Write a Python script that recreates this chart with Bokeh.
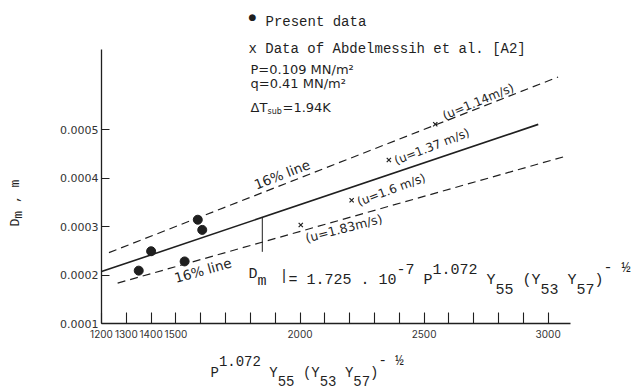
import math

from bokeh.plotting import figure
from bokeh.models import Label, FixedTicker, NumeralTickFormatter, Range1d
from bokeh.embed import file_html
from bokeh.resources import INLINE

# ---------------------------------------------------------------- data
# Present data: abscissa P^1.072 Y55 (Y53 Y57)^-1/2 and mean diameter D_m [m]
present_x = [1350, 1400, 1535, 1588, 1606]
present_d = [0.000209, 0.000249, 0.000228, 0.000314, 0.000293]

# Data of Abdelmessih et al. [A2], with the liquid velocity of each run
abdel_x = [2545, 2358, 2208, 2003]
abdel_d = [0.000511, 0.000437, 0.000354, 0.000303]
abdel_u = ["1.14", "1.37", "1.6", "1.83"]

# Correlation D_m = 1.725e-7 * X with a +/-16 % band
coef = 1.725e-7
band = 0.16
fit_span = [1200, 2960]
upper_span = [1230, 3040]
lower_span = [1265, 3060]

# Axis ticks
x_ticks = [1200, 1300, 1400, 1500, 1600, 1700, 1800, 1900, 2000, 2100,
           2200, 2300, 2400, 2500, 2600, 2700, 2800, 2900, 3000]
x_labelled = [1200, 1300, 1400, 1500, 2000, 2500, 3000]
y_ticks = [0.0001, 0.0002, 0.0003, 0.0004, 0.0005]

# ---------------------------------------------------------------- style
INK = "#1f1f1f"
SANS = "DejaVu Sans"
MONO = "Liberation Mono"
W, H = 635, 391

# axis box: data limits and where they sit on the page (pixels)
AX_X0, AX_X1 = 1200, 3090
AX_Y0, AX_Y1 = 0.0001, 0.000665
PX_L, PX_R, PX_T, PX_B = 101, 570, 49, 323

sx = (PX_R - PX_L) / (AX_X1 - AX_X0)
sy = (PX_B - PX_T) / (AX_Y1 - AX_Y0)

# the plotting area is the whole page; the axes are pinned inside it
x_range = Range1d(AX_X0 - PX_L / sx, AX_X0 + (W - PX_L) / sx)
y_range = Range1d(AX_Y0 - (H - PX_B) / sy, AX_Y0 + PX_B / sy)

p = figure(width=W, height=H, x_range=x_range, y_range=y_range,
           output_backend="svg", toolbar_location=None, min_border=0)
p.xgrid.visible = False
p.ygrid.visible = False
p.outline_line_color = None
p.background_fill_color = "white"
p.border_fill_color = "white"

xa = p.xaxis[0]
xa.fixed_location = AX_Y0
xa.bounds = (AX_X0, AX_X1)
xa.ticker = FixedTicker(ticks=x_ticks, minor_ticks=[])
xa.major_label_overrides = {t: (str(t) if t in x_labelled else "") for t in x_ticks}
xa.major_tick_in = 11
xa.major_tick_out = 0
xa.major_label_standoff = 6
xa.major_label_text_font = "Inter"
xa.major_label_text_font_size = "10px"

ya = p.yaxis[0]
ya.fixed_location = AX_X0
ya.bounds = (AX_Y0, AX_Y1)
ya.ticker = FixedTicker(ticks=y_ticks, minor_ticks=[])
ya.formatter = NumeralTickFormatter(format="0.0000")
ya.major_tick_in = 8
ya.major_tick_out = 0
ya.major_label_standoff = 3
ya.major_label_text_font = SANS
ya.major_label_text_font_size = "11px"

for ax in (xa, ya):
    ax.axis_line_color = INK
    ax.axis_line_width = 1.3
    ax.major_tick_line_color = INK
    ax.major_tick_line_width = 1.1
    ax.major_label_text_color = "#333333"

# ---------------------------------------------------------------- lines
p.line(fit_span, [coef * x for x in fit_span], line_color=INK, line_width=1.6)
p.line(upper_span, [(1 + band) * coef * x for x in upper_span],
       line_color=INK, line_width=1.2, line_dash="8 5")
p.line(lower_span, [(1 - band) * coef * x for x in lower_span],
       line_color=INK, line_width=1.2, line_dash="8 5")

# D_m marker between the correlation and the lower band
DM_X = 1848
p.segment(x0=[DM_X], y0=[coef * DM_X], x1=[DM_X],
          y1=[(1 - band) * coef * DM_X - 0.00002],
          line_color=INK, line_width=1.0)

# ---------------------------------------------------------------- points
p.scatter(present_x, present_d, marker="circle", size=9,
          fill_color=INK, line_color=INK)
p.scatter(abdel_x, abdel_d, marker="x", size=6, line_color=INK, line_width=1.2)


def screen_angle(k):
    return math.atan(k * coef * sy / sx)


# ---------------------------------------------------------------- texts
def put(px, py, text, size, font=SANS, angle=0.0, align="left",
        baseline="middle"):
    p.add_layout(Label(x=px, y=H - py, x_units="screen", y_units="screen",
                       text=text, text_font=font,
                       text_font_size=f"{size}px", text_color=INK,
                       text_align=align, text_baseline=baseline,
                       angle=angle))


def typed(px, py, pieces, size, sup, sub):
    """Typewriter line: every column has the same advance."""
    adv = 0.6 * size
    col = 0
    for txt, kind in pieces:
        lead = len(txt) - len(txt.lstrip())
        shift = {"": 0, "sup": sup, "sub": -sub}[kind]
        put(px + (col + lead) * adv, py - shift, txt.lstrip(), size,
            font=MONO, baseline="alphabetic")
        col += len(txt)


def typed_up(px, py, pieces, size, sub):
    """Typewriter line rotated to read upwards."""
    adv = 0.6 * size
    col = 0
    for txt, kind in pieces:
        lead = len(txt) - len(txt.lstrip())
        shift = sub if kind == "sub" else 0
        put(px + shift, py - (col + lead) * adv, txt.lstrip(), size,
            font=MONO, baseline="alphabetic", angle=math.pi / 2)
        col += len(txt)


def data_label(x, y, text, size, angle, dx, dy, baseline="middle"):
    p.add_layout(Label(x=x, y=y, text=text, x_offset=dx, y_offset=dy,
                       text_font=SANS, text_font_size=f"{size}px",
                       text_color=INK, text_align="left",
                       text_baseline=baseline, angle=angle))


# legend
put(252, 16, "\u25cf", 9, font=SANS, align="center")
put(265, 21, "Present data", 14, font=MONO, baseline="alphabetic")
put(248, 48, "x Data of Abdelmessih et al. [A2]", 14, font=MONO,
    baseline="alphabetic")

# operating conditions
put(250, 69, "P=0.109 MN/m\u00b2", 13)
put(250, 83, "q=0.41 MN/m\u00b2", 13)
put(250, 107, "\u0394T", 13)
put(267, 111, "sub", 8)
put(282, 107, "=1.94K", 13)

# velocity labels next to the crosses
a_up = screen_angle(1 + band)
a_mid = screen_angle(1.0)
a_lo = screen_angle(1 - band)
vel_style = [  # (angle, dx, dy, size, baseline)
    (a_up + 0.02, 8, 8, 12, "alphabetic"),
    (a_up, 6, -1, 12, "middle"),
    (a_mid + 0.03, 6, -2, 12, "middle"),
    (a_lo - 0.02, 3, -6, 12.5, "top"),
]
for x, d, u, (ang, dx, dy, fs, bl) in zip(abdel_x, abdel_d, abdel_u, vel_style):
    sp = "" if u in ("1.14", "1.83") else " "
    data_label(x, d, f"(u={u}{sp}m/s)", fs, ang, dx, dy, baseline=bl)

# band labels
BAND_UP_X = 1829
BAND_LO_X = 1486
data_label(BAND_UP_X, (1 + band) * coef * BAND_UP_X, "16% line", 13.5,
           a_up, 0, 2, baseline="bottom")
data_label(BAND_LO_X, (1 - band) * coef * BAND_LO_X, "16% line", 13.5,
           a_lo, 0, -3, baseline="top")

# correlation written inside the plot
put(248, 274, "D", 15, font=MONO, baseline="alphabetic")
put(257, 281, "m", 15, font=MONO, baseline="alphabetic")
put(279, 276, "|", 15, font=MONO, baseline="alphabetic")
typed(288, 280,
      [("=", ""), (" 1.725 . 10", ""), ("-7", "sup"), (" P", ""),
       ("1.072", "sup"), (" Y", ""), ("55", "sub"), (" (Y", ""),
       ("53", "sub"), (" Y", ""), ("57", "sub"), (")", ""), ("- \u00bd", "sup")],
      15, sup=12, sub=8)

# axis titles
typed(210, 372,
      [("P", ""), ("1.072", "sup"), (" Y", ""), ("55", "sub"), (" (Y", ""),
       ("53", "sub"), (" Y", ""), ("57", "sub"), (")", ""), ("- \u00bd", "sup")],
      14, sup=12, sub=8)
typed_up(15, 226, [("D", ""), ("m", "sub"), (" ,  m", "")], 13, sub=3)

open("out.html", "w").write(file_html(p, INLINE))
